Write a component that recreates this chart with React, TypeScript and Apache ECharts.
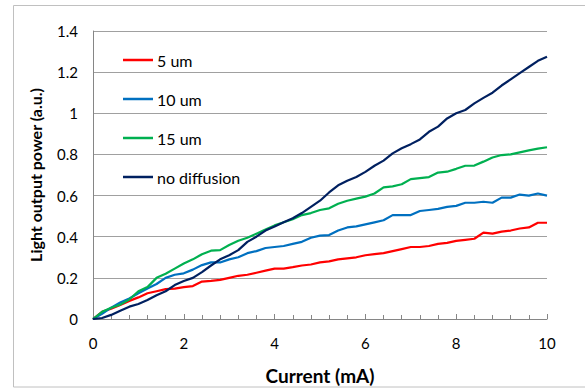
import React, { useEffect, useRef } from "react";
import * as echarts from "echarts";

const currents = [0,0.2,0.4,0.6,0.8,1,1.2,1.4,1.6,1.8,2,2.2,2.4,2.6,2.8,3,3.2,3.4,3.6,3.8,4,4.2,4.4,4.6,4.8,5,5.2,5.4,5.6,5.8,6,6.2,6.4,6.6,6.8,7,7.2,7.4,7.6,7.8,8,8.2,8.4,8.6,8.8,9,9.2,9.4,9.6,9.8,10];

const um5 = [0,0.035,0.05,0.068,0.088,0.105,0.125,0.135,0.145,0.148,0.155,0.16,0.182,0.185,0.19,0.2,0.21,0.215,0.225,0.235,0.245,0.245,0.252,0.26,0.265,0.275,0.28,0.29,0.295,0.3,0.31,0.315,0.32,0.33,0.34,0.35,0.35,0.355,0.365,0.37,0.38,0.385,0.39,0.42,0.415,0.425,0.43,0.44,0.445,0.468,0.468];

const um10 = [0,0.025,0.055,0.08,0.1,0.125,0.148,0.17,0.2,0.215,0.222,0.24,0.262,0.275,0.275,0.29,0.3,0.32,0.33,0.345,0.35,0.355,0.365,0.375,0.395,0.405,0.408,0.43,0.445,0.45,0.46,0.47,0.48,0.505,0.505,0.505,0.525,0.53,0.535,0.545,0.55,0.565,0.565,0.57,0.565,0.59,0.59,0.605,0.6,0.61,0.6];

const um15 = [0,0.035,0.055,0.07,0.095,0.135,0.155,0.2,0.22,0.245,0.27,0.29,0.315,0.332,0.335,0.36,0.38,0.395,0.415,0.435,0.455,0.47,0.485,0.505,0.515,0.53,0.538,0.56,0.575,0.585,0.595,0.61,0.64,0.645,0.655,0.68,0.685,0.69,0.712,0.716,0.73,0.745,0.746,0.765,0.785,0.797,0.8,0.81,0.82,0.828,0.835];

const noDiff = [0,0.005,0.02,0.04,0.06,0.073,0.092,0.115,0.135,0.165,0.185,0.2,0.228,0.26,0.29,0.31,0.335,0.375,0.4,0.43,0.45,0.47,0.49,0.515,0.545,0.575,0.615,0.65,0.672,0.69,0.715,0.745,0.77,0.805,0.83,0.85,0.873,0.91,0.935,0.975,1,1.016,1.048,1.075,1.1,1.135,1.165,1.195,1.225,1.255,1.275];

const seriesNames = ["5 um", "10 um", "15 um", "no diffusion"];
const seriesColors = ["#ff0000", "#0070c0", "#00b050", "#002060"];
const seriesValues = [um5, um10, um15, noDiff];

const FONT = "Lato";

export default function App() {
  const ref = useRef<HTMLDivElement>(null);
  useEffect(() => {
    if (!ref.current) return;
    const chart = echarts.init(ref.current, null, { renderer: "svg" });
    chart.setOption({
      animation: false,
      backgroundColor: "#ffffff",
      textStyle: { fontFamily: FONT },
      graphic: [
        {
          type: "rect",
          shape: { x: 13.5, y: 5.5, width: 600, height: 381.5 },
          style: { fill: "none", stroke: "#c0c0c0", lineWidth: 1 },
          silent: true,
        },
      ],
      grid: { left: 93, top: 31, right: 38, bottom: 71, containLabel: false },
      legend: {
        orient: "vertical",
        left: 123,
        top: 51,
        padding: 0,
        itemWidth: 30,
        itemHeight: 2.5,
        itemGap: 21,
        icon: "rect",
        data: seriesNames,
        textStyle: { fontFamily: FONT, fontSize: 16, color: "#000", lineHeight: 18, padding: [0, 0, 0, -1] },
      },
      xAxis: {
        type: "value",
        min: 0,
        max: 10,
        interval: 2,
        name: "Current (mA)",
        nameLocation: "middle",
        nameGap: 47,
        nameTextStyle: { fontFamily: FONT, fontSize: 19, fontWeight: "bold", color: "#000" },
        axisLine: { show: true, lineStyle: { color: "#868686", width: 1 } },
        axisTick: { show: true, inside: true, length: 5, lineStyle: { color: "#868686" } },
        minorTick: { show: true, splitNumber: 5, length: 4, lineStyle: { color: "#868686" } },
        splitLine: { show: false },
        axisLabel: { margin: 16, fontFamily: FONT, fontSize: 15, color: "#000" },
      },
      yAxis: {
        type: "value",
        min: 0,
        max: 1.4,
        interval: 0.2,
        name: "Light output power (a.u.)",
        nameLocation: "middle",
        nameGap: 50,
        nameTextStyle: { fontFamily: FONT, fontSize: 16, fontWeight: "bold", color: "#000" },
        axisLine: { show: true, lineStyle: { color: "#868686", width: 1 } },
        axisTick: { show: false },
        splitLine: { show: true, lineStyle: { color: "#a0a0a0", width: 1 } },
        axisLabel: { margin: 15, fontFamily: FONT, fontSize: 15, color: "#000" },
      },
      series: seriesNames.map((name, i) => ({
        name,
        type: "line",
        data: currents.map((c, j) => [c, seriesValues[i][j]]),
        showSymbol: false,
        symbol: "none",
        lineStyle: { color: seriesColors[i], width: 2.2 },
        itemStyle: { color: seriesColors[i] },
        z: 2 + i,
      })),
    });
    return () => chart.dispose();
  }, []);
  return (
    <div
      ref={ref}
      style={{ position: "fixed", left: 0, top: 0, width: 585, height: 390 }}
    />
  );
}
